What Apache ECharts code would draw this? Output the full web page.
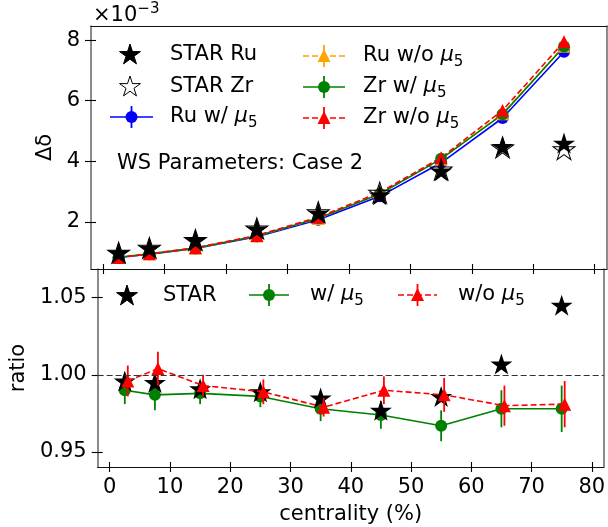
<!DOCTYPE html>
<html>
<head>
<meta charset="utf-8">
<script src="https://cdn.jsdelivr.net/npm/echarts@6/dist/echarts.min.js"></script>
<style>
  html, body { margin: 0; padding: 0; background: #fff; }
  #chart { width: 608px; height: 527px; }
</style>
</head>
<body>
<div id="chart"></div>
<script>
// Centrality bins (%)
const centrality = [2.5, 7.5, 15, 25, 35, 45, 55, 65, 75];
const centralityShifted = [3, 8, 15.5, 25.5, 35.5, 45.5, 55.5, 65.5, 75.5];

// Upper panel: Δδ (×10^-3)
const starRu = [0.98, 1.13, 1.39, 1.76, 2.29, 2.89, 3.68, 4.49, 4.60];
const starZr = [0.98, 1.14, 1.40, 1.78, 2.32, 2.96, 3.73, 4.46, 4.40];
const ruWithMu5 = [0.82, 0.93, 1.12, 1.51, 2.07, 2.84, 3.95, 5.43, 7.62];
const ruWithoutMu5 = [0.83, 0.94, 1.13, 1.53, 2.11, 2.94, 4.07, 5.57, 7.80];
const zrWithMu5 = [0.83, 0.94, 1.13, 1.53, 2.12, 2.92, 4.08, 5.55, 7.79];
const zrWithoutMu5 = [0.82, 0.94, 1.14, 1.55, 2.15, 2.97, 4.12, 5.68, 7.95];

// Lower panel: Ru/Zr ratio
const ratioStar = [0.996, 0.995, 0.991, 0.989, 0.985, 0.977, 0.986, 1.007, 1.045];
const ratioWith = [0.990, 0.987, 0.988, 0.986, 0.978, 0.974, 0.967, 0.978, 0.978];
const ratioWithErr = [0.009, 0.010, 0.007, 0.007, 0.008, 0.009, 0.010, 0.012, 0.015];
const ratioWithout = [0.996, 1.004, 0.993, 0.989, 0.979, 0.990, 0.987, 0.980, 0.981];
const ratioWithoutErr = [0.010, 0.011, 0.007, 0.008, 0.006, 0.009, 0.011, 0.013, 0.015];

// Tick values
const xTicks = [0, 10, 20, 30, 40, 50, 60, 70, 80];
const deltaTicks = [2, 4, 6, 8];
const ratioTicks = [0.95, 1.00, 1.05];

const FONT = '"DejaVu Sans", "Liberation Sans", sans-serif';
const FS = 21;

// five-pointed star outline, as used for the STAR markers
function starPts(cx, cy, r) {
  const pts = [];
  for (let k = 0; k < 10; k++) {
    const a = (-90 + k * 36) * Math.PI / 180;
    const rr = k % 2 === 0 ? r : r * 0.382;
    pts.push([cx + rr * Math.cos(a), cy + rr * Math.sin(a)]);
  }
  return pts;
}
const STAR = 'path://' + starPts(50, 50, 50).map((p, i) => (i ? 'L' : 'M') + p[0].toFixed(2) + ',' + p[1].toFixed(2)).join(' ') + ' Z';
const STAR_SIZE = [22, 21];

const pairs = (xs, ys) => xs.map((x, i) => [x, ys[i]]);
const triples = (xs, ys, es) => xs.map((x, i) => [x, ys[i], es[i]]);

function errorBars(name, xAxisIndex, yAxisIndex, data, color, z) {
  return {
    type: 'custom', name, xAxisIndex, yAxisIndex, data, z, silent: true,
    encode: { x: 0, y: 1 },
    renderItem(params, api) {
      const x = api.value(0), y = api.value(1), e = api.value(2);
      const a = api.coord([x, y - e]);
      const b = api.coord([x, y + e]);
      return { type: 'line', shape: { x1: a[0], y1: a[1], x2: b[0], y2: b[1] },
               style: { stroke: color, lineWidth: 1.8 } };
    }
  };
}

function lineSeries(name, xi, yi, data, color, symbol, size, dashed, z) {
  return {
    type: 'line', name, xAxisIndex: xi, yAxisIndex: yi, data, z,
    symbol, symbolSize: size, showSymbol: true,
    itemStyle: { color, opacity: 1 },
    lineStyle: { color, width: 1.6, type: dashed ? [6, 3] : 'solid' },
    emphasis: { disabled: true }, animation: false
  };
}

function starSeries(name, xi, yi, data, filled) {
  return {
    type: 'scatter', name, xAxisIndex: xi, yAxisIndex: yi, z: 3, data,
    symbol: STAR, symbolSize: STAR_SIZE, emphasis: { disabled: true },
    itemStyle: filled ? { color: '#000', opacity: 1 }
                      : { color: 'rgba(0,0,0,0)', borderColor: '#000', borderWidth: 1, opacity: 1 }
  };
}

// ---- legends and annotations drawn as graphic elements ----
const measure = document.createElement('canvas').getContext('2d');
function textWidth(t, size, italic) {
  measure.font = (italic ? 'italic ' : '') + size + 'px ' + FONT;
  return measure.measureText(t).width;
}
function mathText(x, yc, parts) {
  const out = [];
  let cx = x;
  parts.forEach(p => {
    const small = p.sub || p.sup;
    const size = small ? 15 : FS;
    const dy = p.sub ? 6 : (p.sup ? -6.5 : 0);
    out.push({
      type: 'text', x: cx, y: yc + dy, silent: true,
      style: { text: p.t, fill: '#000', fontSize: size, fontFamily: FONT,
               fontStyle: p.it ? 'italic' : 'normal',
               align: 'left', verticalAlign: 'middle',
               textAlign: 'left', textVerticalAlign: 'middle' }
    });
    cx += textWidth(p.t, size, p.it);
  });
  return out;
}
const mu5 = (prefix) => [{ t: prefix }, { t: 'μ', it: true }, { t: '5', sub: true }];

function legendStar(cx, cy, filled) {
  return { type: 'polygon', silent: true, shape: { points: starPts(cx, cy, 11) },
           style: { fill: filled ? '#000' : 'none', stroke: '#000', lineWidth: 1 } };
}
function legendLine(x1, x2, y, color, dashed) {
  return { type: 'line', silent: true, shape: { x1, y1: y, x2, y2: y },
           style: { stroke: color, lineWidth: 1.6, lineDash: dashed ? [6, 3] : null } };
}
function legendErr(x, y, h, color) {
  return { type: 'line', silent: true, shape: { x1: x, y1: y - h, x2: x, y2: y + h },
           style: { stroke: color, lineWidth: 1.8 } };
}
function legendCircle(cx, cy, color) {
  return { type: 'circle', silent: true, shape: { cx, cy, r: 6 }, style: { fill: color } };
}
function legendTriangle(cx, cy, color) {
  return { type: 'polygon', silent: true,
           shape: { points: [[cx, cy - 7], [cx + 6.5, cy + 6], [cx - 6.5, cy + 6]] },
           style: { fill: color } };
}
function modelEntry(x1, x2, y, color, dashed, marker) {
  const cx = (x1 + x2) / 2;
  return [legendLine(x1, x2, y, color, dashed), legendErr(cx, y, 11, color),
          marker === 'circle' ? legendCircle(cx, y, color) : legendTriangle(cx, y, color)];
}

const graphics = [].concat(
  // top legend, column 1
  [legendStar(130, 55, true)], mathText(170, 55, [{ t: 'STAR Ru' }]),
  [legendStar(130, 87, false)], mathText(170, 87, [{ t: 'STAR Zr' }]),
  modelEntry(110, 153, 117, '#0000ff', false, 'circle'), mathText(170, 117, mu5('Ru w/ ')),
  // top legend, column 2
  modelEntry(303, 345, 56, '#ffa500', true, 'triangle'), mathText(363, 56, mu5('Ru w/o ')),
  modelEntry(303, 345, 87, '#008000', false, 'circle'), mathText(363, 87, mu5('Zr w/ ')),
  modelEntry(303, 345, 118, '#ff0000', true, 'triangle'), mathText(363, 118, mu5('Zr w/o ')),
  // annotation
  mathText(117, 164, [{ t: 'WS Parameters: Case 2' }]),
  // axis offset text
  mathText(93, 16, [{ t: '×10' }, { t: '−3', sup: true }]),
  // bottom legend
  [legendStar(127, 296, true)], mathText(163, 296, [{ t: 'STAR' }]),
  modelEntry(249, 289, 295, '#008000', false, 'circle'), mathText(310, 295, mu5('w/ ')),
  modelEntry(398, 437, 295, '#ff0000', true, 'triangle'), mathText(458, 295, mu5('w/o '))
);

// ---- axes ----
const X_RANGE = { min: -2, max: 82 };
const TOP_RANGE = { min: 0.44, max: 8.47 };
const BOT_RANGE = { min: 0.9403, max: 1.0685 };
const SPINE_H = { color: '#111', width: 1.1 };
const SPINE_V = { color: '#6e6e6e', width: 1.6 };
const tickStyle = { color: '#000', width: 1.1 };

function xAxisSet(grid, labels) {
  return [
    { type: 'value', gridIndex: grid, position: 'bottom', ...X_RANGE,
      axisLine: { show: true, onZero: false, lineStyle: SPINE_H },
      axisTick: { show: true, inside: false, length: 5, customValues: xTicks, lineStyle: tickStyle },
      axisLabel: labels ? { show: true, customValues: xTicks, margin: 10, color: '#000',
                            fontSize: FS, fontFamily: FONT } : { show: false },
      splitLine: { show: false },
      name: labels ? 'centrality (%)' : '', nameLocation: 'middle', nameGap: 37,
      nameTextStyle: { fontSize: FS, fontFamily: FONT, color: '#000' } },
    { type: 'value', gridIndex: grid, position: 'bottom', ...X_RANGE,
      axisLine: { show: false, onZero: false },
      axisTick: { show: true, inside: true, length: 5, customValues: xTicks, lineStyle: tickStyle },
      axisLabel: { show: false }, splitLine: { show: false } },
    { type: 'value', gridIndex: grid, position: 'top', ...X_RANGE,
      axisLine: { show: true, onZero: false, lineStyle: SPINE_H },
      axisTick: { show: false }, axisLabel: { show: false }, splitLine: { show: false } }
  ];
}
function yAxisSet(grid, range, ticks, fmt, name, nameGap) {
  return [
    { type: 'value', gridIndex: grid, position: 'left', ...range,
      axisLine: { show: true, onZero: false, lineStyle: SPINE_V },
      axisTick: { show: true, inside: false, length: 6, customValues: ticks, lineStyle: tickStyle },
      axisLabel: { show: true, customValues: ticks, formatter: fmt, margin: 11, color: '#000',
                   fontSize: FS, fontFamily: FONT },
      splitLine: { show: false },
      name, nameLocation: 'middle', nameGap,
      nameTextStyle: { fontSize: FS, fontFamily: FONT, color: '#000' } },
    { type: 'value', gridIndex: grid, position: 'left', ...range,
      axisLine: { show: false, onZero: false },
      axisTick: { show: true, inside: true, length: 5, customValues: ticks, lineStyle: tickStyle },
      axisLabel: { show: false }, splitLine: { show: false } },
    { type: 'value', gridIndex: grid, position: 'right', ...range,
      axisLine: { show: true, onZero: false, lineStyle: SPINE_V },
      axisTick: { show: false }, axisLabel: { show: false }, splitLine: { show: false } }
  ];
}

const option = {
  animation: false,
  backgroundColor: '#fff',
  grid: [
    { left: 91, top: 26, width: 516, height: 243 },
    { left: 91, top: 269, width: 516, height: 198 }
  ],
  xAxis: [].concat(xAxisSet(0, false), xAxisSet(1, true)),
  yAxis: [].concat(
    yAxisSet(0, TOP_RANGE, deltaTicks, v => String(Math.round(v)), 'Δδ', 28),
    yAxisSet(1, BOT_RANGE, ratioTicks, v => v.toFixed(2), 'ratio', 65)
  ),
  series: [
    // upper panel: model curves
    lineSeries('Ru w/ μ5', 0, 0, pairs(centrality, ruWithMu5), '#0000ff', 'circle', 12, false, 2),
    lineSeries('Ru w/o μ5', 0, 0, pairs(centrality, ruWithoutMu5), '#ffa500', 'triangle', 13, true, 2),
    lineSeries('Zr w/ μ5', 0, 0, pairs(centrality, zrWithMu5), '#008000', 'circle', 12, false, 2),
    lineSeries('Zr w/o μ5', 0, 0, pairs(centrality, zrWithoutMu5), '#ff0000', 'triangle', 13, true, 2),
    // upper panel: STAR data
    starSeries('STAR Zr', 0, 0, pairs(centrality, starZr), false),
    starSeries('STAR Ru', 0, 0, pairs(centrality, starRu), true),
    // lower panel
    errorBars('w/ μ5 err', 3, 3, triples(centrality, ratioWith, ratioWithErr), '#008000', 2),
    Object.assign(lineSeries('w/ μ5', 3, 3, pairs(centrality, ratioWith), '#008000', 'circle', 12, false, 2), {
      markLine: { silent: true, symbol: 'none', label: { show: false },
                  lineStyle: { color: '#333', width: 1.2, type: [6, 3] },
                  data: [{ yAxis: 1.0 }] }
    }),
    starSeries('STAR', 3, 3, pairs(centrality, ratioStar), true),
    errorBars('w/o μ5 err', 3, 3, triples(centralityShifted, ratioWithout, ratioWithoutErr), '#ff0000', 4),
    lineSeries('w/o μ5', 3, 3, pairs(centralityShifted, ratioWithout), '#ff0000', 'triangle', 13, true, 4)
  ],
  graphic: { elements: graphics }
};

const chart = echarts.init(document.getElementById('chart'), null, { renderer: 'canvas' });
chart.setOption(option);
</script>
</body>
</html>
